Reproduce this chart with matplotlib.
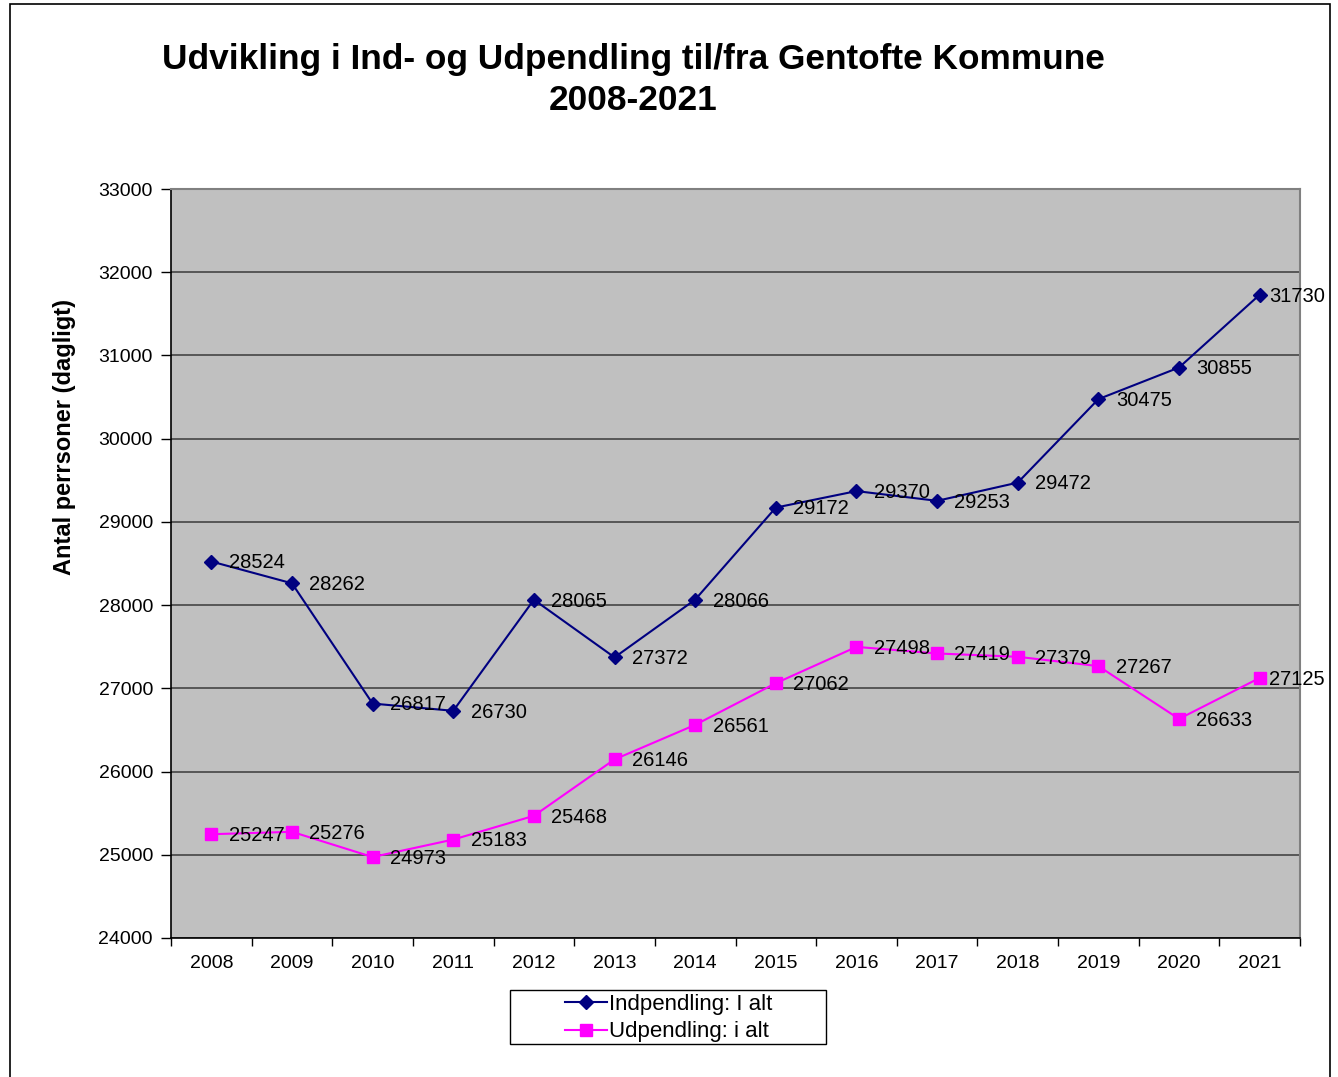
import numpy as np
import matplotlib
matplotlib.use("Agg")
import matplotlib.pyplot as plt
from matplotlib.patches import Rectangle

plt.rcParams['font.family'] = ['Liberation Sans', 'DejaVu Sans']

years = ["2008", "2009", "2010", "2011", "2012", "2013", "2014",
         "2015", "2016", "2017", "2018", "2019", "2020", "2021"]
indpendling = [28524, 28262, 26817, 26730, 28065, 27372, 28066,
               29172, 29370, 29253, 29472, 30475, 30855, 31730]
udpendling = [25247, 25276, 24973, 25183, 25468, 26146, 26561,
              27062, 27498, 27419, 27379, 27267, 26633, 27125]

W, H = 1338, 1077
fig = plt.figure(figsize=(W / 100, H / 100), dpi=100)
ax = fig.add_axes([171 / W, 1 - 938 / H, (1300 - 171) / W, (938 - 189) / H])

# outer frame of the chart object
fig.patches.append(Rectangle((10 / W, -0.01), 1320 / W, 1 - 4 / H + 0.01,
                             transform=fig.transFigure, fill=False,
                             edgecolor='black', linewidth=1.2))

x = np.arange(len(years))
ax.set_facecolor('#c0c0c0')
ax.plot(x, indpendling, color='#000080', marker='D', markersize=7.5,
        linewidth=1.5, label='Indpendling: I alt', zorder=3)
ax.plot(x, udpendling, color='#ff00ff', marker='s', markersize=8.5,
        linewidth=1.5, label='Udpendling: i alt', zorder=3)

# labels right of each point; the last one is pushed in to stay inside the frame
for series in (indpendling, udpendling):
    for xi, v in zip(x, series):
        dx = 7 if xi == len(years) - 1 else 12.5
        ax.annotate(str(v), (xi, v), xytext=(dx, -1), textcoords='offset points',
                    va='center', ha='left', fontsize=14.5, zorder=4)

ax.set_xlim(-0.5, len(years) - 0.5)
ax.set_ylim(24000, 33000)
ax.set_yticks(np.arange(24000, 33001, 1000))
ax.yaxis.grid(True, color='#3a3a3a', linewidth=1.1)
ax.set_axisbelow(True)

ax.set_xticks(x)
ax.set_xticklabels(years)
ax.set_xticks(np.arange(-0.5, len(years)), minor=True)
ax.tick_params(axis='x', which='major', length=0, labelsize=14, pad=12)
ax.tick_params(axis='x', which='minor', length=6, width=1, direction='out')
ax.tick_params(axis='y', length=7, width=1, direction='out', labelsize=14, pad=6)

for side in ['top', 'right']:
    ax.spines[side].set_color('#808080')
    ax.spines[side].set_linewidth(1.5)
for side in ['left', 'bottom']:
    ax.spines[side].set_color('black')
    ax.spines[side].set_linewidth(1.2)

fig.text(65 / W, 1 - 437 / H, 'Antal perrsoner (dagligt)', rotation=90,
         ha='center', va='center', fontsize=17, fontweight='bold')

fig.text(633 / W, 1 - 80 / H, 'Udvikling i Ind- og Udpendling til/fra Gentofte Kommune\n2008-2021',
         ha='center', va='center', fontsize=25.4, fontweight='bold', linespacing=1.27)

# legend box
fig.patches.append(Rectangle((510 / W, 1 - 1044 / H), 316 / W, 54 / H,
                             transform=fig.transFigure, fill=True, facecolor='white',
                             edgecolor='black', linewidth=1))
leg = fig.legend(loc='center left', bbox_to_anchor=(565 / W, 1 - 1018 / H),
                 fontsize=16, frameon=False, handlelength=1.9, handletextpad=0.1,
                 borderpad=0, labelspacing=0.3, borderaxespad=0)

fig.savefig('out.png', dpi=100)
